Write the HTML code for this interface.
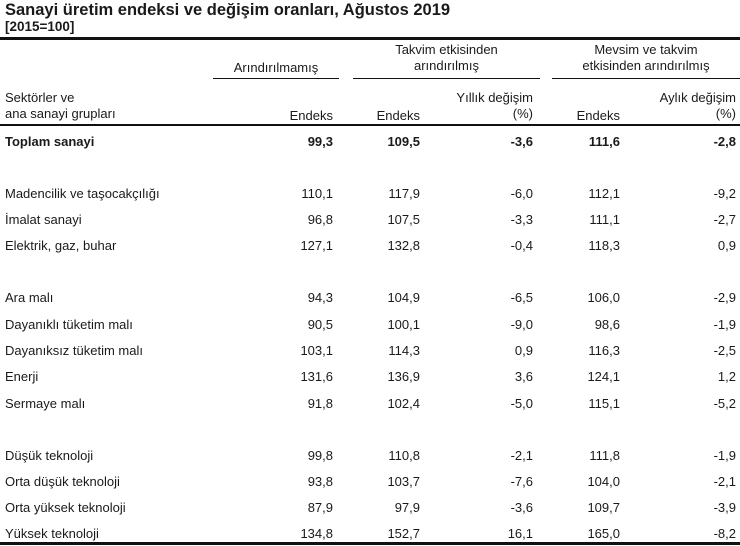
<!DOCTYPE html>
<html><head><meta charset="utf-8"><style>
body{margin:0;width:740px;height:546px;background:#fff;position:relative;font-family:"Liberation Sans",Arial,sans-serif;color:#1a1a1a;overflow:hidden}
div{position:absolute;white-space:nowrap;font-size:13px;line-height:16px}
.r{text-align:right}
.b{font-weight:bold}
.ln{background:#111;height:1px}
</style></head><body>
<div class="b" style="left:5px;top:1px;font-size:16.5px;line-height:19px">Sanayi üretim endeksi ve değişim oranları, Ağustos 2019</div>
<div class="b" style="left:5px;top:19px;font-size:13.5px">[2015=100]</div>
<div class="ln" style="left:0;top:37px;width:740px;height:3px"></div>

<div style="left:213px;top:60px;width:126px;text-align:center">Arındırılmamış</div>
<div class="ln" style="left:213px;top:78px;width:126px"></div>
<div style="left:353px;top:42px;width:187px;text-align:center">Takvim etkisinden<br>arındırılmış</div>
<div class="ln" style="left:353px;top:78px;width:187px"></div>
<div style="left:552px;top:42px;width:188px;text-align:center">Mevsim ve takvim<br>etkisinden arındırılmış</div>
<div class="ln" style="left:552px;top:78px;width:188px"></div>

<div style="left:5px;top:90px">Sektörler ve<br>ana sanayi grupları</div>
<div class="r" style="right:407px;top:108px">Endeks</div>
<div class="r" style="right:320px;top:108px">Endeks</div>
<div class="r" style="right:207px;top:90px">Yıllık değişim<br>(%)</div>
<div class="r" style="right:120px;top:108px">Endeks</div>
<div class="r" style="right:4px;top:90px">Aylık değişim<br>(%)</div>
<div class="ln" style="left:0;top:124px;width:740px;height:2px"></div>

<div id="rows"></div>
<script>
var rows=[
[134,"Toplam sanayi","99,3","109,5","-3,6","111,6","-2,8",1],
[186,"Madencilik ve taşocakçılığı","110,1","117,9","-6,0","112,1","-9,2"],
[212,"İmalat sanayi","96,8","107,5","-3,3","111,1","-2,7"],
[238,"Elektrik, gaz, buhar","127,1","132,8","-0,4","118,3","0,9"],
[290,"Ara malı","94,3","104,9","-6,5","106,0","-2,9"],
[317,"Dayanıklı tüketim malı","90,5","100,1","-9,0","98,6","-1,9"],
[343,"Dayanıksız tüketim malı","103,1","114,3","0,9","116,3","-2,5"],
[369,"Enerji","131,6","136,9","3,6","124,1","1,2"],
[396,"Sermaye malı","91,8","102,4","-5,0","115,1","-5,2"],
[448,"Düşük teknoloji","99,8","110,8","-2,1","111,8","-1,9"],
[474,"Orta düşük teknoloji","93,8","103,7","-7,6","104,0","-2,1"],
[500,"Orta yüksek teknoloji","87,9","97,9","-3,6","109,7","-3,9"],
[526,"Yüksek teknoloji","134,8","152,7","16,1","165,0","-8,2"]];
var rights=[407,320,207,120,4],h="";
rows.forEach(function(r){var c=r[7]?' b':'';
h+='<div class="'+c+'" style="left:5px;top:'+r[0]+'px">'+r[1]+'</div>';
for(var i=0;i<5;i++)h+='<div class="r'+c+'" style="right:'+rights[i]+'px;top:'+r[0]+'px">'+r[i+2]+'</div>';});
document.getElementById("rows").outerHTML=h;
</script>
<div class="ln" style="left:0;top:542px;width:740px;height:3px"></div>
</body></html>
